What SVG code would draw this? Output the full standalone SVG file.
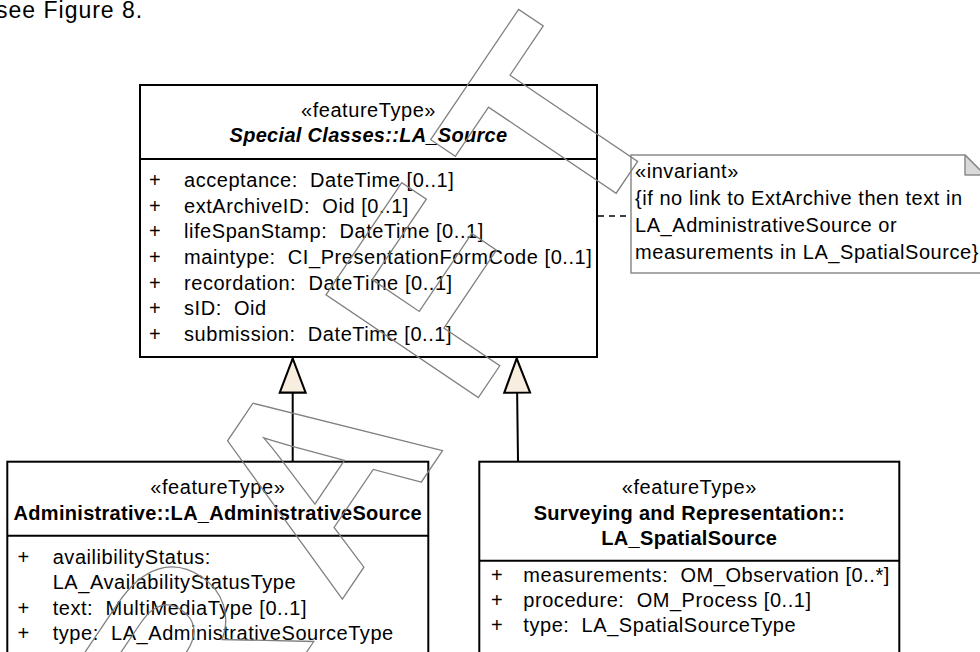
<svg xmlns="http://www.w3.org/2000/svg" width="980" height="652" viewBox="0 0 980 652" xml:space="preserve">
<style>
  .t{font-family:"Liberation Sans",Arial,sans-serif;font-size:20px;fill:#000;letter-spacing:0.55px;white-space:pre}
  .c{text-anchor:middle}
  .b{font-weight:bold;letter-spacing:0.3px}
  .bi{font-weight:bold;font-style:italic;letter-spacing:0.3px}
  .box{fill:#fff;stroke:#000;stroke-width:2}
  .sep{stroke:#000;stroke-width:2}
  .note{fill:#fff;stroke:#8c8c8c;stroke-width:1.5}
  .fold{fill:#d9d9d9;stroke:#8c8c8c;stroke-width:1.5;stroke-linejoin:round}
  .gen{fill:none;stroke:#000;stroke-width:2}
  .dash{fill:none;stroke:#000;stroke-width:1.5;stroke-dasharray:6 5}
  .wm{font-family:"Liberation Sans",Arial,sans-serif;font-weight:bold;font-size:267px;fill:none;stroke:#808080;stroke-width:1.3;letter-spacing:39px;font-kerning:none}
</style>
<defs>
  <marker id="genHead" markerUnits="userSpaceOnUse" markerWidth="40" markerHeight="30" viewBox="-2 -2 37 29" refX="33" refY="12.5" orient="auto">
    <path d="M0,0 L33,12.5 L0,25 Z" fill="#f8eedf" stroke="#000" stroke-width="2" stroke-linejoin="miter"/>
  </marker>
</defs>

<text class="t" x="-4" y="18" style="font-size:23px;letter-spacing:1px">see Figure 8.</text>

<g id="connectors">
  <path class="gen" d="M292.7,461 V358.5" marker-end="url(#genHead)"/>
  <path class="gen" d="M518,461 L516.7,358.5" marker-end="url(#genHead)"/>
  <path class="dash" d="M598,216 H631"/>
</g>

<g id="la-source">
  <rect class="box" x="140" y="85" width="457" height="272"/>
  <line class="sep" x1="140" y1="159" x2="597" y2="159"/>
  <text class="t c" x="368.5" y="117">«featureType»</text>
  <text class="t c bi" x="368.5" y="142">Special Classes::LA_Source</text>
  <text class="t" x="149" y="187">+</text><text class="t" x="184" y="187">acceptance:  DateTime [0..1]</text>
  <text class="t" x="149" y="212.7">+</text><text class="t" x="184" y="212.7">extArchiveID:  Oid [0..1]</text>
  <text class="t" x="149" y="238.4">+</text><text class="t" x="184" y="238.4">lifeSpanStamp:  DateTime [0..1]</text>
  <text class="t" x="149" y="264">+</text><text class="t" x="184" y="264">maintype:  CI_PresentationFormCode [0..1]</text>
  <text class="t" x="149" y="289.7">+</text><text class="t" x="184" y="289.7">recordation:  DateTime [0..1]</text>
  <text class="t" x="149" y="315.4">+</text><text class="t" x="184" y="315.4">sID:  Oid</text>
  <text class="t" x="149" y="341">+</text><text class="t" x="184" y="341">submission:  DateTime [0..1]</text>
</g>

<g id="invariant-note">
  <path class="note" d="M631,155 H965 L985,175 V273 H631 Z"/>
  <path class="fold" d="M965,155 V175 H985 Z"/>
  <text class="t" x="635" y="178">«invariant»</text>
  <text class="t" x="635" y="205">{if no link to ExtArchive then text in</text>
  <text class="t" x="635" y="232">LA_AdministrativeSource or</text>
  <text class="t" x="635" y="259">measurements in LA_SpatialSource}</text>
</g>

<g id="la-administrative-source">
  <rect class="box" x="7.3" y="461.7" width="421" height="210"/>
  <line class="sep" x1="7.3" y1="535.7" x2="428.3" y2="535.7"/>
  <text class="t c" x="217.8" y="493.5">«featureType»</text>
  <text class="t c b" x="217.8" y="519.5">Administrative::LA_AdministrativeSource</text>
  <text class="t" x="17.5" y="563.5">+</text><text class="t" x="52.7" y="563.5">availibilityStatus:</text>
  <text class="t" x="52.7" y="589">LA_AvailabilityStatusType</text>
  <text class="t" x="17.5" y="614.5">+</text><text class="t" x="52.7" y="614.5">text:  MultiMediaType [0..1]</text>
  <text class="t" x="17.5" y="640">+</text><text class="t" x="52.7" y="640">type:  LA_AdministrativeSourceType</text>
</g>

<g id="la-spatial-source">
  <rect class="box" x="479.3" y="461.7" width="420" height="210"/>
  <line class="sep" x1="479.3" y1="560.7" x2="899.3" y2="560.7"/>
  <text class="t c" x="689.3" y="493.5">«featureType»</text>
  <text class="t c b" x="689.3" y="519.5">Surveying and Representation::</text>
  <text class="t c b" x="689.3" y="544.5">LA_SpatialSource</text>
  <text class="t" x="491" y="582">+</text><text class="t" x="523.3" y="582">measurements:  OM_Observation [0..*]</text>
  <text class="t" x="491" y="607">+</text><text class="t" x="523.3" y="607">procedure:  OM_Process [0..1]</text>
  <text class="t" x="491" y="632">+</text><text class="t" x="523.3" y="632">type:  LA_SpatialSourceType</text>
</g>

<g id="watermark">
  <text class="wm" transform="translate(79.4,989) rotate(-56)">DRAFT</text>
</g>
</svg>
